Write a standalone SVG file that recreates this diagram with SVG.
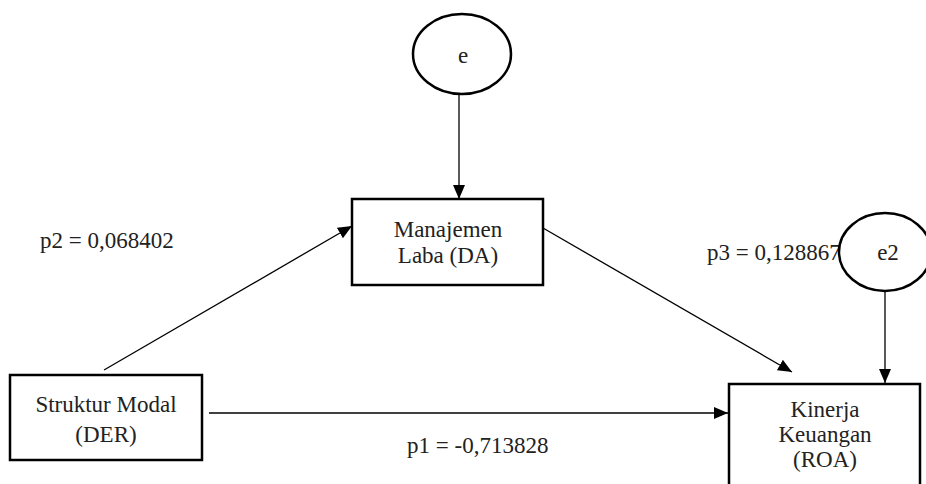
<svg xmlns="http://www.w3.org/2000/svg" width="926" height="484" viewBox="0 0 926 484">
<style>
text{font-family:'Liberation Serif','DejaVu Serif','Times New Roman',serif;font-size:23px;fill:#222;}
.c{text-anchor:middle;}
.box{fill:#fff;stroke:#000;stroke-width:2.5;}
.ell{fill:#fff;stroke:#000;stroke-width:2.5;}
.ln{stroke:#000;stroke-width:1.3;fill:none;marker-end:url(#ah);}
</style>
<defs>
<marker id="ah" markerWidth="14" markerHeight="12" refX="14" refY="6" orient="auto" markerUnits="userSpaceOnUse">
<path d="M0,0 L14,6 L0,12 Z" fill="#000"/>
</marker>
</defs>
<rect width="926" height="484" fill="#fff"/>
<g id="connectors">
<line class="ln" x1="459" y1="95" x2="459" y2="199"/>
<line class="ln" x1="885" y1="292" x2="885" y2="383"/>
<line class="ln" x1="543" y1="228" x2="792" y2="372"/>
<line class="ln" x1="209" y1="413" x2="728" y2="413"/>
<line class="ln" x1="104" y1="370" x2="352" y2="226"/>
</g>
<g id="labels">
<text x="40" y="248">p2 = 0,068402</text>
<text x="707" y="260">p3 = 0,128867</text>
<text x="407" y="453">p1 = -0,713828</text>
</g>
<g id="e">
<ellipse class="ell" cx="462" cy="54" rx="49" ry="40"/>
<text class="c" x="463" y="63">e</text>
</g>
<g id="manajemen">
<rect class="box" x="352" y="199" width="191" height="86"/>
<text class="c" x="448" y="237">Manajemen</text>
<text class="c" x="448" y="263">Laba (DA)</text>
</g>
<g id="e2">
<ellipse class="ell" cx="885" cy="252" rx="46" ry="39"/>
<text class="c" x="888" y="260">e2</text>
</g>
<g id="kinerja">
<rect class="box" x="729" y="384" width="191" height="110"/>
<text class="c" x="825" y="417">Kinerja</text>
<text class="c" x="825" y="442">Keuangan</text>
<text class="c" x="825" y="467">(ROA)</text>
</g>
<g id="struktur">
<rect class="box" x="10" y="375" width="192" height="85"/>
<text class="c" x="106" y="412">Struktur Modal</text>
<text class="c" x="106" y="442">(DER)</text>
</g>
</svg>
